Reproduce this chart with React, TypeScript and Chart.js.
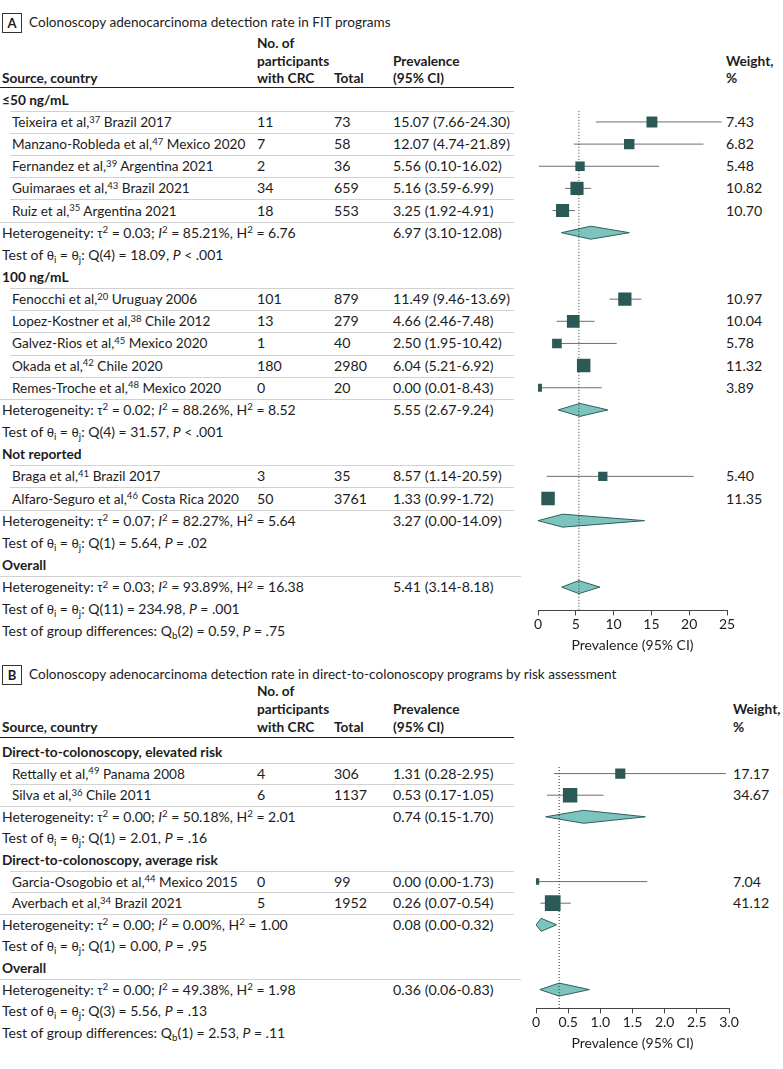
import React, { useEffect, useRef } from "react";
import { Chart, registerables } from "chart.js";
Chart.register(...registerables);

// ================= Panel A data =================
const aSubgroups = ["≤50 ng/mL", "100 ng/mL", "Not reported"];
const aAuthors = ["Teixeira et al", "Manzano-Robleda et al", "Fernandez et al", "Guimaraes et al", "Ruiz et al", "Fenocchi et al", "Lopez-Kostner et al", "Galvez-Rios et al", "Okada et al", "Remes-Troche et al", "Braga et al", "Alfaro-Seguro et al"];
const aRefs = [37, 47, 39, 43, 35, 20, 38, 45, 42, 48, 41, 46];
const aSettings = ["Brazil 2017", "Mexico 2020", "Argentina 2021", "Brazil 2021", "Argentina 2021", "Uruguay 2006", "Chile 2012", "Mexico 2020", "Chile 2020", "Mexico 2020", "Brazil 2017", "Costa Rica 2020"];
const aSubgroupOf = [0, 0, 0, 0, 0, 1, 1, 1, 1, 1, 2, 2];
const aCases = [11, 7, 2, 34, 18, 101, 13, 1, 180, 0, 3, 50];
const aTotals = [73, 58, 36, 659, 553, 879, 279, 40, 2980, 20, 35, 3761];
const aPrev = [15.07, 12.07, 5.56, 5.16, 3.25, 11.49, 4.66, 2.5, 6.04, 0.0, 8.57, 1.33];
const aLow = [7.66, 4.74, 0.1, 3.59, 1.92, 9.46, 2.46, 1.95, 5.21, 0.01, 1.14, 0.99];
const aHigh = [24.3, 21.89, 16.02, 6.99, 4.91, 13.69, 7.48, 10.42, 6.92, 8.43, 20.59, 1.72];
const aWeights = [7.43, 6.82, 5.48, 10.82, 10.7, 10.97, 10.04, 5.78, 11.32, 3.89, 5.4, 11.35];
const aSubPrev = [6.97, 5.55, 3.27];
const aSubLow = [3.1, 2.67, 0.0];
const aSubHigh = [12.08, 9.24, 14.09];
const aSubTau2 = ["0.03", "0.02", "0.07"];
const aSubI2 = ["85.21", "88.26", "82.27"];
const aSubH2 = ["6.76", "8.52", "5.64"];
const aSubQdf = [4, 4, 1];
const aSubQ = ["18.09", "31.57", "5.64"];
const aSubP = [["<", ".001"], ["<", ".001"], ["=", ".02"]];
const aOverall = [5.41, 3.14, 8.18];
const aOverallHet = ["0.03", "93.89", "16.38"];
const aOverallTest = ["11", "234.98", "=", ".001"];
const aDiffTest = ["2", "0.59", "=", ".75"];
const aTicks = [0, 5, 10, 15, 20, 25];
const aTickLabels = ["0", "5", "10", "15", "20", "25"];

// ================= Panel B data =================
const bSubgroups = ["Direct-to-colonoscopy, elevated risk", "Direct-to-colonoscopy, average risk"];
const bAuthors = ["Rettally et al", "Silva et al", "Garcia-Osogobio et al", "Averbach et al"];
const bRefs = [49, 36, 44, 34];
const bSettings = ["Panama 2008", "Chile 2011", "Mexico 2015", "Brazil 2021"];
const bSubgroupOf = [0, 0, 1, 1];
const bCases = [4, 6, 0, 5];
const bTotals = [306, 1137, 99, 1952];
const bPrev = [1.31, 0.53, 0.0, 0.26];
const bLow = [0.28, 0.17, 0.0, 0.07];
const bHigh = [2.95, 1.05, 1.73, 0.54];
const bWeights = [17.17, 34.67, 7.04, 41.12];
const bSubPrev = [0.74, 0.08];
const bSubLow = [0.15, 0.0];
const bSubHigh = [1.7, 0.32];
const bSubTau2 = ["0.00", "0.00"];
const bSubI2 = ["50.18", "0.00"];
const bSubH2 = ["2.01", "1.00"];
const bSubQdf = [1, 1];
const bSubQ = ["2.01", "0.00"];
const bSubP = [["=", ".16"], ["=", ".95"]];
const bOverall = [0.36, 0.06, 0.83];
const bOverallHet = ["0.00", "49.38", "1.98"];
const bOverallTest = ["3", "5.56", "=", ".13"];
const bDiffTest = ["1", "2.53", "=", ".11"];
const bTicks = [0, 0.5, 1, 1.5, 2, 2.5, 3];
const bTickLabels = ["0", "0.5", "1.0", "1.5", "2.0", "2.5", "3.0"];

// ================= Styles =================
const FONT = "Lato,'DejaVu Sans',sans-serif";
const FS_TXT = 13.6;
const FS_NUM = 14.2;
const FS_STAT = 14;
const FS_BOLD = 13.7;
const TEXT = "#1c1c1c";
const SQUARE = "#2b5955";
const DIAMOND_FILL = "#7ec4be";
const DIAMOND_EDGE = "#2f5f5b";
const CI_COLOR = "#6e6e6e";
const SEP = "#d2d2d2";

const specA = {
  subgroups: aSubgroups, authors: aAuthors, refs: aRefs, settings: aSettings, subgroupOf: aSubgroupOf,
  cases: aCases, totals: aTotals, prev: aPrev, low: aLow, high: aHigh, weights: aWeights,
  subPrev: aSubPrev, subLow: aSubLow, subHigh: aSubHigh, subTau2: aSubTau2, subI2: aSubI2, subH2: aSubH2,
  subQdf: aSubQdf, subQ: aSubQ, subP: aSubP, overall: aOverall, overallHet: aOverallHet,
  overallTest: aOverallTest, diffTest: aDiffTest, ticks: aTicks, tickLabels: aTickLabels,
};
const specB = {
  subgroups: bSubgroups, authors: bAuthors, refs: bRefs, settings: bSettings, subgroupOf: bSubgroupOf,
  cases: bCases, totals: bTotals, prev: bPrev, low: bLow, high: bHigh, weights: bWeights,
  subPrev: bSubPrev, subLow: bSubLow, subHigh: bSubHigh, subTau2: bSubTau2, subI2: bSubI2, subH2: bSubH2,
  subQdf: bSubQdf, subQ: bSubQ, subP: bSubP, overall: bOverall, overallHet: bOverallHet,
  overallTest: bOverallTest, diffTest: bDiffTest, ticks: bTicks, tickLabels: bTickLabels,
};

const layoutA = {
  letter: "A", title: "Colonoscopy adenocarcinoma detection rate in FIT programs",
  titleY: 22, headY: [43, 60.5, 78], ruleY: 87.5, y0: 99.8, step: 22.15, weightX: 726,
  xPix0: 537.7, xPix1: 726.7, dotTop: 105, axisY: 609, boxK: 4.0, diamondHalf: 6.5,
};
const layoutB = {
  letter: "B", title: "Colonoscopy adenocarcinoma detection rate in direct-to-colonoscopy programs by risk assessment",
  titleY: 674, headY: [691, 709, 727], ruleY: 737.5, y0: 752, step: 21.6, weightX: 733,
  xPix0: 536, xPix1: 729.3, dotTop: 760, axisY: 1007, boxK: 2.45, diamondHalf: 6.5,
};

const COL_CASES = 257;
const COL_TOTAL = 334;
const COL_PREV = 393;
const RULE_RIGHT = 514;

function fmtCI(e: number, l: number, h: number) {
  return `${e.toFixed(2)} (${l.toFixed(2)}-${h.toFixed(2)})`;
}

function buildRows(s: any) {
  const rows: any[] = [];
  s.subgroups.forEach((_: string, gi: number) => {
    rows.push({ kind: "group", gi });
    const members = s.authors.map((_: string, i: number) => i).filter((i: number) => s.subgroupOf[i] === gi);
    members.forEach((si: number, k: number) => rows.push({ kind: "study", si, last: k === members.length - 1 }));
    rows.push({ kind: "het", gi });
    rows.push({ kind: "test", gi });
  });
  rows.push({ kind: "overall" }, { kind: "ohet" }, { kind: "otest" }, { kind: "diff" });
  return rows.map((r, i) => ({ ...r, i }));
}

const Sup = ({ children }: any) => (
  <span style={{ fontSize: "0.7em", position: "relative", top: "-0.45em", lineHeight: 0 }}>{children}</span>
);
const Sub = ({ children }: any) => (
  <span style={{ fontSize: "0.7em", position: "relative", top: "0.3em", lineHeight: 0 }}>{children}</span>
);
const Op = ({ children }: any) => <span style={{ margin: "0 3.5px" }}>{children}</span>;
const Greek = ({ children }: any) => (
  <span style={{ fontFamily: "'Liberation Sans','Noto Sans',sans-serif", fontSize: "0.93em" }}>{children}</span>
);

function T({ x, y, bold, size, children }: any) {
  return (
    <div
      style={{
        position: "absolute", left: x, top: y - 10, height: 20, lineHeight: "20px",
        whiteSpace: "nowrap", fontWeight: bold ? 700 : 400, fontSize: size || (bold ? FS_BOLD : FS_TXT),
      }}
    >
      {children}
    </div>
  );
}

function Het({ tau2, i2, h2 }: any) {
  return (
    <>
      Heterogeneity: <Greek>τ</Greek><Sup>2</Sup><Op>=</Op>{tau2}; <i>I</i><Sup>2</Sup><Op>=</Op>{i2}%, H<Sup>2</Sup><Op>=</Op>{h2}
    </>
  );
}
function Test({ df, q, op, p }: any) {
  return (
    <>
      Test of <Greek>θ</Greek><Sub>i</Sub> = <Greek>θ</Greek><Sub>j</Sub>: Q({df})<Op>=</Op>{q}, <i>P</i><Op>{op}</Op>{p}
    </>
  );
}

function ForestChart({ s, L, rows }: any) {
  const ref = useRef<HTMLCanvasElement>(null);
  const padX = 24;
  const left = L.xPix0 - padX;
  const width = Math.round(L.xPix1 - L.xPix0 + 2 * padX);
  const top = L.dotTop - 4;
  const height = Math.round(L.axisY - top + 45);

  useEffect(() => {
    const canvas = ref.current!;
    const rowOfStudy: number[] = [];
    const rowOfSubHet: number[] = [];
    let rowOverall = 0;
    rows.forEach((r: any) => {
      if (r.kind === "study") rowOfStudy[r.si] = r.i;
      if (r.kind === "het") rowOfSubHet[r.gi] = r.i;
      if (r.kind === "ohet") rowOverall = r.i;
    });
    const dh = L.diamondHalf / L.step;
    const datasets: any[] = [];
    datasets.push({
      label: "studies",
      data: s.prev.map((p: number, i: number) => ({ x: p, y: rowOfStudy[i], w: s.weights[i] })),
      pointStyle: "rect",
      pointRadius: (ctx: any) => (L.boxK * Math.sqrt(ctx.raw ? ctx.raw.w : 1)) / Math.SQRT2,
      backgroundColor: SQUARE,
      borderColor: SQUARE,
      borderWidth: 0,
      showLine: false,
      order: 0,
    });
    datasets.push({
      label: "ref",
      data: [{ x: s.overall[0], y: -100 }, { x: s.overall[0], y: 100 }],
      showLine: true, pointRadius: 0, borderColor: "#333", borderWidth: 1, borderDash: [1, 2],
      order: 1,
    });
    const diamonds: number[][] = s.subPrev.map((e: number, g: number) => [e, s.subLow[g], s.subHigh[g], rowOfSubHet[g]]);
    diamonds.push([s.overall[0], s.overall[1], s.overall[2], rowOverall]);
    diamonds.forEach(([e, lo, hi, r]) => {
      datasets.push({
        label: "diamond",
        data: [
          { x: lo, y: r }, { x: e, y: r - dh }, { x: hi, y: r }, { x: e, y: r + dh }, { x: lo, y: r },
        ],
        showLine: true, pointRadius: 0, borderColor: DIAMOND_EDGE, borderWidth: 1,
        backgroundColor: DIAMOND_FILL, fill: "shape", tension: 0, order: 2,
      });
    });
    s.prev.forEach((_: number, i: number) => {
      datasets.push({
        label: "ci",
        data: [{ x: s.low[i], y: rowOfStudy[i] }, { x: s.high[i], y: rowOfStudy[i] }],
        showLine: true, pointRadius: 0, borderColor: CI_COLOR, borderWidth: 1, order: 3,
      });
    });

    const yMin0 = (L.dotTop - L.y0) / L.step;
    const yMax0 = (L.axisY - L.y0) / L.step;
    const chart = new Chart(canvas, {
      type: "scatter",
      data: { datasets },
      options: {
        responsive: false,
        animation: false,
        events: [],
        layout: { padding: { left: padX, right: padX, top: 4, bottom: 0 } },
        plugins: { legend: { display: false }, tooltip: { enabled: false } },
        scales: {
          y: { type: "linear", reverse: true, display: false, min: yMin0, max: yMax0 },
          x: {
            type: "linear", min: s.ticks[0], max: s.ticks[s.ticks.length - 1], offset: false,
            afterBuildTicks: (axis: any) => { axis.ticks = s.ticks.map((v: number) => ({ value: v })); },
            ticks: {
              autoSkip: false, maxRotation: 0, padding: 1, color: TEXT,
              font: { family: FONT, size: 14 },
              callback: (_v: any, idx: number) => s.tickLabels[idx],
            },
            grid: { display: true, drawOnChartArea: false, drawTicks: true, tickLength: 5, color: "#444" },
            border: { display: true, color: "#444", width: 1 },
            title: {
              display: true, text: "Prevalence (95% CI)", color: TEXT,
              font: { family: FONT, size: 14 }, padding: { top: 3, bottom: 0 },
            },
          },
        },
      } as any,
    });
    const ca = chart.chartArea;
    const yTopPage = top + ca.top;
    const yBotPage = top + ca.bottom;
    (chart.options as any).scales.y.min = (yTopPage - L.y0) / L.step;
    (chart.options as any).scales.y.max = (yBotPage - L.y0) / L.step;
    chart.update();
    return () => chart.destroy();
  }, []);

  return (
    <canvas
      ref={ref}
      width={width}
      height={height}
      style={{ position: "absolute", left, top, width, height }}
    />
  );
}

function Panel({ s, L }: any) {
  const rows = buildRows(s);
  const yOf = (i: number) => L.y0 + L.step * i;
  const els: any[] = [];
  els.push(
    <div key="box" style={{
      position: "absolute", left: 2, top: L.titleY - 9.5, width: 18, height: 18,
      border: "1px solid #333", fontWeight: 700, fontSize: 13, lineHeight: "18px", textAlign: "center",
    }}>{L.letter}</div>
  );
  els.push(<T key="title" x={29} y={L.titleY}>{L.title}</T>);
  const H = L.headY;
  els.push(<T key="h1" x={2} y={H[2]} bold>Source, country</T>);
  els.push(<T key="h2" x={COL_CASES} y={H[0]} bold>No. of</T>);
  els.push(<T key="h3" x={COL_CASES} y={H[1]} bold>participants</T>);
  els.push(<T key="h4" x={COL_CASES} y={H[2]} bold>with CRC</T>);
  els.push(<T key="h5" x={COL_TOTAL} y={H[2]} bold>Total</T>);
  els.push(<T key="h6" x={COL_PREV} y={H[1]} bold>Prevalence</T>);
  els.push(<T key="h7" x={COL_PREV} y={H[2]} bold>(95% CI)</T>);
  els.push(<T key="h8" x={L.weightX} y={H[1]} bold>Weight,</T>);
  els.push(<T key="h9" x={L.weightX} y={H[2]} bold>%</T>);
  els.push(<div key="rule" style={{ position: "absolute", left: 0, top: L.ruleY - 0.75, width: RULE_RIGHT, height: 1.5, background: "#222" }} />);

  const sep = (key: string, i: number, x0: number, x1: number) =>
    els.push(<div key={key} style={{ position: "absolute", left: x0, top: yOf(i) + L.step / 2, width: x1 - x0, height: 1, background: SEP }} />);

  rows.forEach((r: any) => {
    const y = yOf(r.i);
    const k = "r" + r.i;
    if (r.kind === "group") {
      els.push(<T key={k} x={2} y={y} bold>{s.subgroups[r.gi]}</T>);
      sep(k + "s", r.i, 10, RULE_RIGHT);
    } else if (r.kind === "study") {
      const i = r.si;
      els.push(<T key={k + "a"} x={12} y={y}>{s.authors[i]},<Sup>{s.refs[i]}</Sup> {s.settings[i]}</T>);
      els.push(<T key={k + "b"} x={COL_CASES} y={y} size={FS_NUM}>{s.cases[i]}</T>);
      els.push(<T key={k + "c"} x={COL_TOTAL} y={y} size={FS_NUM}>{s.totals[i]}</T>);
      els.push(<T key={k + "d"} x={COL_PREV} y={y} size={FS_NUM}>{fmtCI(s.prev[i], s.low[i], s.high[i])}</T>);
      els.push(<T key={k + "e"} x={L.weightX} y={y} size={FS_NUM}>{s.weights[i].toFixed(2)}</T>);
      sep(k + "s", r.i, r.last ? 0 : 10, RULE_RIGHT);
    } else if (r.kind === "het") {
      const g = r.gi;
      els.push(<T key={k + "a"} x={2} y={y} size={FS_STAT}><Het tau2={s.subTau2[g]} i2={s.subI2[g]} h2={s.subH2[g]} /></T>);
      els.push(<T key={k + "b"} x={COL_PREV} y={y} size={FS_NUM}>{fmtCI(s.subPrev[g], s.subLow[g], s.subHigh[g])}</T>);
    } else if (r.kind === "test") {
      const g = r.gi;
      els.push(<T key={k} x={2} y={y} size={FS_STAT}><Test df={s.subQdf[g]} q={s.subQ[g]} op={s.subP[g][0]} p={s.subP[g][1]} /></T>);
    } else if (r.kind === "overall") {
      els.push(<T key={k} x={2} y={y} bold>Overall</T>);
      sep(k + "s", r.i, 0, RULE_RIGHT + 7);
    } else if (r.kind === "ohet") {
      els.push(<T key={k + "a"} x={2} y={y} size={FS_STAT}><Het tau2={s.overallHet[0]} i2={s.overallHet[1]} h2={s.overallHet[2]} /></T>);
      els.push(<T key={k + "b"} x={COL_PREV} y={y} size={FS_NUM}>{fmtCI(s.overall[0], s.overall[1], s.overall[2])}</T>);
    } else if (r.kind === "otest") {
      const t = s.overallTest;
      els.push(<T key={k} x={2} y={y} size={FS_STAT}><Test df={t[0]} q={t[1]} op={t[2]} p={t[3]} /></T>);
    } else if (r.kind === "diff") {
      const t = s.diffTest;
      els.push(
        <T key={k} x={2} y={y} size={FS_STAT}>
          Test of group differences: Q<Sub>b</Sub>({t[0]})<Op>=</Op>{t[1]}, <i>P</i><Op>{t[2]}</Op>{t[3]}
        </T>
      );
    }
  });
  return (
    <>
      {els}
      <ForestChart s={s} L={L} rows={rows} />
    </>
  );
}

export default function App() {
  return (
    <div style={{
      position: "absolute", left: 0, top: 0, width: 783, height: 1069, background: "#fff",
      fontFamily: FONT, fontSize: FS_TXT, color: TEXT, overflow: "hidden",
    }}>
      <Panel s={specA} L={layoutA} />
      <Panel s={specB} L={layoutB} />
    </div>
  );
}
